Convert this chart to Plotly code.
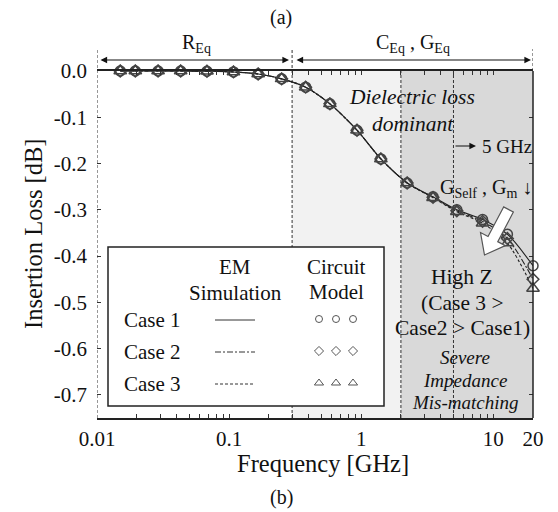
import math
import plotly.graph_objects as go

# ---------------- data ----------------
freq_ghz = [0.015, 0.0195, 0.029, 0.043, 0.068, 0.108, 0.166, 0.25, 0.38, 0.58,
            0.93, 1.41, 2.23, 3.5, 5.3, 8.3, 12.8, 20]
case1 = [0.0, 0.0, 0.0, 0.0, -0.0005, -0.002, -0.0065, -0.017, -0.035, -0.071,
         -0.128, -0.190, -0.242, -0.272, -0.300, -0.321, -0.353, -0.421]
case2 = [0.0, 0.0, 0.0, 0.0, -0.0005, -0.002, -0.0065, -0.017, -0.035, -0.071,
         -0.128, -0.190, -0.242, -0.273, -0.302, -0.325, -0.362, -0.450]
case3 = [0.0, 0.0, 0.0, 0.0, -0.0005, -0.002, -0.0065, -0.017, -0.035, -0.071,
         -0.128, -0.190, -0.242, -0.274, -0.304, -0.329, -0.372, -0.470]
case_names = ["Case 1", "Case 2", "Case 3"]
y_tickvals = [0.0, -0.1, -0.2, -0.3, -0.4, -0.5, -0.6, -0.7]
y_ticktext = ["0.0", "-0.1", "-0.2", "-0.3", "-0.4", "-0.5", "-0.6", "-0.7"]
x_labeled = [0.01, 0.1, 1, 10, 20]
x_labels = ["0.01", "0.1", "1", "10", "20"]
region_bounds = [0.01, 0.3, 2, 5, 20]

# ---------------- layout geometry ----------------
W, H = 558, 512
ML, MR, MT, MB = 97, 25, 71, 94
PW, PH = W - ML - MR, H - MT - MB


def px(x):
    return (x - ML) / PW


def py(y):
    return (MT + PH - y) / PH


FONT = "Liberation Serif"
INK = "#111111"
CURVE = "#222222"
MARK = "#444444"

fig = go.Figure()

dashes = ["solid", "6px,2px,2px,2px", "3px,2px"]
symbols = ["circle-open", "diamond-open", "triangle-up-open"]
msizes = [10, 9, 11]
for vals, dash in zip([case1, case2, case3], dashes):
    fig.add_trace(go.Scatter(x=freq_ghz, y=vals, mode="lines",
                             line=dict(color=CURVE, width=1.1, dash=dash, shape="spline", smoothing=0.8),
                             cliponaxis=False, showlegend=False, hoverinfo="skip"))
for vals, sym, ms in zip([case1, case2, case3], symbols, msizes):
    fig.add_trace(go.Scatter(x=freq_ghz, y=vals, mode="markers",
                             marker=dict(symbol=sym, size=ms, color=MARK, line=dict(width=1.5, color=MARK)),
                             cliponaxis=False, showlegend=False, hoverinfo="skip"))

# legend samples on an overlay frame that maps 0..1 to the plot area
leg_rows = [320, 352, 384]
for yy, dash in zip(leg_rows, dashes):
    fig.add_trace(go.Scatter(x=[px(215), px(255)], y=[py(yy), py(yy)], xaxis="x2", yaxis="y2", mode="lines",
                             line=dict(color="#333333", width=1, dash=dash),
                             showlegend=False, hoverinfo="skip", cliponaxis=False))
for yy, sym, ms in zip(leg_rows, symbols, [7, 7, 8]):
    fig.add_trace(go.Scatter(x=[px(319), px(336), px(353)], y=[py(yy - 1)] * 3, xaxis="x2", yaxis="y2",
                             mode="markers",
                             marker=dict(symbol=sym, size=ms, color="#555555", line=dict(width=1, color="#555555")),
                             showlegend=False, hoverinfo="skip", cliponaxis=False))

# x ticks (major labeled + minor unlabeled)
minor = []
for dec in [0.01, 0.1, 1]:
    for k in range(2, 10):
        minor.append(dec * k)
tv = sorted(set(x_labeled + minor))
tt = [x_labels[x_labeled.index(v)] if v in x_labeled else "" for v in tv]

shapes = []
# shaded regions
shapes.append(dict(type="rect", xref="x", yref="paper", x0=region_bounds[1], x1=region_bounds[2],
                   y0=0, y1=1, fillcolor="#f2f2f2", line=dict(width=0), layer="below"))
shapes.append(dict(type="rect", xref="x", yref="paper", x0=region_bounds[2], x1=region_bounds[4],
                   y0=0, y1=1, fillcolor="#d9d9d9", line=dict(width=0), layer="below"))
top_ext = py(49)
dline = dict(color="#333333", width=1, dash="3px,2px")
shapes.append(dict(type="line", xref="x", yref="paper", x0=region_bounds[0], x1=region_bounds[0],
                   y0=0, y1=top_ext, line=dline, layer="below"))
shapes.append(dict(type="line", xref="x", yref="paper", x0=region_bounds[1], x1=region_bounds[1],
                   y0=0, y1=top_ext, line=dline, layer="below"))
shapes.append(dict(type="line", xref="x", yref="paper", x0=region_bounds[2], x1=region_bounds[2],
                   y0=0, y1=1, line=dline, layer="below"))
shapes.append(dict(type="line", xref="x", yref="paper", x0=region_bounds[3], x1=region_bounds[3],
                   y0=0, y1=1, line=dline, layer="below"))
shapes.append(dict(type="line", xref="x", yref="paper", x0=region_bounds[4], x1=region_bounds[4],
                   y0=1, y1=top_ext, line=dline))
# legend box (below traces so legend samples show on top)
shapes.append(dict(type="rect", xref="paper", yref="paper", x0=px(108), x1=px(384), y0=py(406), y1=py(247),
                   fillcolor="white", line=dict(color="#222222", width=1.5), layer="below"))
# right border
shapes.append(dict(type="line", xref="paper", yref="paper", x0=1, x1=1, y0=0, y1=1,
                   line=dict(color="#222222", width=1.5)))

# big white block arrow
T = (508.5, 209.5)
P = (484.5, 255.0)
dx, dy = P[0] - T[0], P[1] - T[1]
L = math.hypot(dx, dy)
ux, uy = dx / L, dy / L
nx, ny = -uy, ux
sw, hw, hl = 5.5, 14.0, 18.0
Hc = (P[0] - ux * hl, P[1] - uy * hl)
pts = [
    (T[0] + nx * sw, T[1] + ny * sw),
    (Hc[0] + nx * sw, Hc[1] + ny * sw),
    (Hc[0] + nx * hw, Hc[1] + ny * hw),
    P,
    (Hc[0] - nx * hw, Hc[1] - ny * hw),
    (Hc[0] - nx * sw, Hc[1] - ny * sw),
    (T[0] - nx * sw, T[1] - ny * sw),
]
path = "M " + " L ".join(f"{px(a):.5f},{py(b):.5f}" for a, b in pts) + " Z"
shapes.append(dict(type="path", xref="paper", yref="paper", path=path,
                   fillcolor="white", line=dict(color="#555555", width=1.2)))

annotations = []


def txt(text, x, y, size=17, italic=False, xanchor="center", angle=0):
    annotations.append(dict(text=text, x=px(x), y=py(y), xref="paper", yref="paper", showarrow=False,
                            xanchor=xanchor, yanchor="middle", textangle=angle,
                            font=dict(family=FONT, size=size, color=INK, style="italic" if italic else "normal")))


txt("(a)", 281, 18, 20)
txt("(b)", 281, 497, 20)
txt("R<sub>Eq</sub>", 196, 44, 20)
txt("C<sub>Eq</sub> , G<sub>Eq</sub>", 413, 44, 20)
txt("Dielectric loss", 412, 97, 21.5, italic=True)
txt("dominant", 413, 124, 21.5, italic=True)
txt("5 GHz", 507, 146, 19)
txt("G<sub>Self</sub> , G<sub>m</sub> \u2193", 486, 188, 20)
txt("High Z", 462, 277, 21.5)
txt("(Case 3 &gt;", 462, 303, 21.5)
txt("Case2 &gt; Case1)", 462, 328, 21.5)
txt("Severe", 465, 357, 19, italic=True)
txt("Impedance", 465, 380, 19, italic=True)
txt("Mis-matching", 465, 402, 19, italic=True)
# legend texts
txt("EM", 235, 267, 21)
txt("Simulation", 235, 293, 21)
txt("Circuit", 336, 267, 21)
txt("Model", 336, 292, 21)
for nm, yy in zip(case_names, leg_rows):
    txt(nm, 152, yy, 21)
# axis titles
txt("Frequency [GHz]", 323, 463, 24.5)
txt("Insertion Loss [dB]", 33, 234, 24.5, angle=-90)


def harrow(x_tail, x_head, y, both=True):
    annotations.append(dict(text="", x=px(x_head), y=py(y), xref="paper", yref="paper",
                            ax=x_tail - x_head, ay=0, showarrow=True, arrowhead=2, startarrowhead=2,
                            arrowside="end+start" if both else "end", arrowsize=1.1, arrowwidth=1.2,
                            startarrowsize=1.1, arrowcolor=INK))


harrow(99, 289, 60)
harrow(295, 531, 60)
harrow(454, 476, 146, both=False)

fig.update_layout(
    width=W, height=H,
    margin=dict(l=ML, r=MR, t=MT, b=MB, pad=0),
    paper_bgcolor="white", plot_bgcolor="white",
    font=dict(family=FONT, size=21, color=INK),
    shapes=shapes, annotations=annotations, showlegend=False,
    xaxis=dict(type="log", range=[math.log10(0.01), math.log10(20)], tickmode="array",
               tickvals=tv, ticktext=tt, ticks="inside", ticklen=4, tickcolor="#333333",
               showline=True, linecolor="#222222", linewidth=1.5, mirror="ticks",
               showgrid=False, zeroline=False, ticklabelstandoff=1,
               tickfont=dict(family=FONT, size=21, color=INK)),
    yaxis=dict(range=[-0.75, 0.0], tickmode="array", tickvals=y_tickvals, ticktext=y_ticktext,
               ticks="inside", ticklen=4, tickcolor="#333333", showline=False, mirror="ticks",
               showgrid=False, zeroline=False, ticklabelstandoff=9,
               tickfont=dict(family=FONT, size=21, color=INK)),
    xaxis2=dict(overlaying="x", range=[0, 1], visible=False, showgrid=False, zeroline=False),
    yaxis2=dict(overlaying="y", range=[0, 1], visible=False, showgrid=False, zeroline=False),
)

fig.write_html("out.html", config={"displayModeBar": False},
               post_script="document.body.style.margin='0px';")
